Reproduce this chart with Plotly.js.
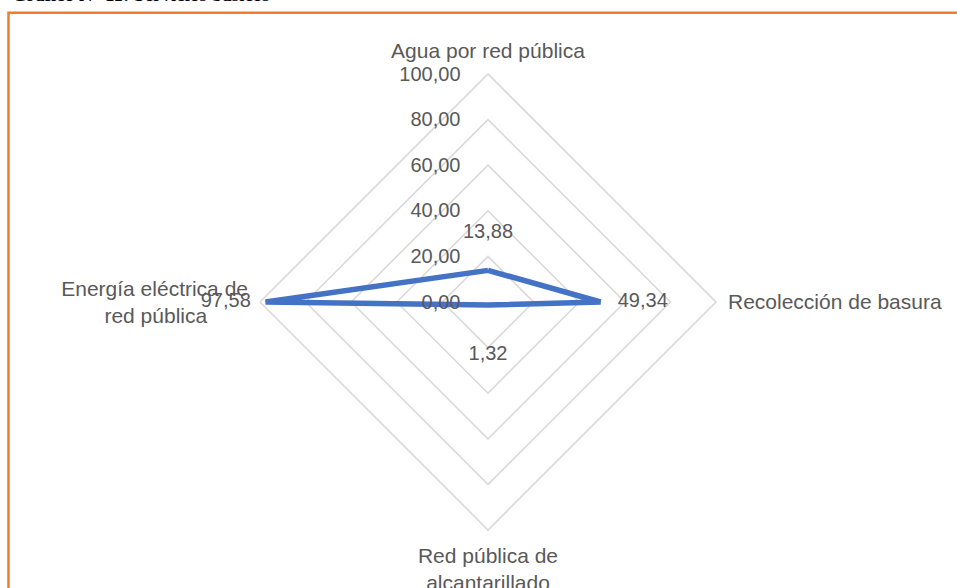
<!DOCTYPE html>
<html>
<head>
<meta charset="utf-8">
<script src="https://cdn.plot.ly/plotly-3.0.1.min.js"></script>
<style>html,body{margin:0;padding:0;background:#fff;}#chart{width:957px;height:588px;}</style>
</head>
<body>
<div id="chart"></div>
<script>
const categories = ["Agua por red pública", "Recolección de basura", "Red pública de alcantarillado", "Energía eléctrica de red pública"];
const tickLabels = ["Agua por red pública", "Recolección de basura", "Red pública de<br>alcantarillado", "Energía eléctrica de<br>red pública&nbsp;&nbsp;&nbsp;&nbsp;&nbsp;&nbsp;&nbsp;"];
const values = [13.88, 49.34, 1.32, 97.58];
const radialTicks = [0, 20, 40, 60, 80, 100];
const titleText = "Gráfico N° 11: Servicios básicos";

const FONT = "Liberation Sans, Arial, sans-serif";
const GRAY = "#595959";

const rClosed = values.concat([values[0]]);
const thetaClosed = categories.concat([categories[0]]);
const labelTemplates = values.map(() => "%{r:.2f}").concat([""]);

const trace = {
  type: "scatterpolar",
  r: rClosed,
  theta: thetaClosed,
  mode: "lines+markers+text",
  line: {color: "#4472C4", width: 5.5},
  marker: {size: [42, 26, 62, 22, 42], color: "rgba(0,0,0,0)", line: {width: 0, color: "rgba(0,0,0,0)"}},
  texttemplate: labelTemplates,
  textposition: ["top center", "middle right", "bottom center", "middle left", "top center"],
  textfont: {family: FONT, size: 20, color: GRAY},
  cliponaxis: false,
  hoverinfo: "skip",
  showlegend: false
};

const layout = {
  width: 957,
  height: 588,
  margin: {l: 0, r: 0, t: 0, b: 0},
  paper_bgcolor: "#ffffff",
  separators: ",.",
  font: {family: FONT, size: 20, color: GRAY},
  showlegend: false,
  polar: {
    domain: {x: [260/957, 716/957], y: [1 - 530/588, 1 - 74/588]},
    gridshape: "linear",
    bgcolor: "rgba(0,0,0,0)",
    radialaxis: {
      range: [0, 100],
      tickmode: "array",
      tickvals: radialTicks,
      tickformat: ".2f",
      angle: 90,
      side: "counterclockwise",
      tickangle: 90,
      showline: false,
      ticks: "outside",
      ticklen: 20,
      tickcolor: "rgba(0,0,0,0)",
      gridcolor: "#d9d9d9",
      gridwidth: 1.6,
      tickfont: {family: FONT, size: 20, color: GRAY}
    },
    angularaxis: {
      direction: "clockwise",
      rotation: 90,
      showgrid: false,
      showline: true,
      linecolor: "#d9d9d9",
      linewidth: 1.6,
      tickmode: "array",
      tickvals: categories,
      ticktext: tickLabels,
      ticks: "outside",
      ticklen: 7,
      tickcolor: "rgba(0,0,0,0)",
      tickfont: {family: FONT, size: 21, color: GRAY}
    }
  },
  shapes: [{
    type: "rect", xref: "paper", yref: "paper",
    x0: 8.5/957, x1: 1.05, y0: -0.05, y1: 1 - 12.8/588,
    line: {color: "#ED7D31", width: 2.5}, fillcolor: "rgba(0,0,0,0)"
  }],
  annotations: [{
    xref: "paper", yref: "paper", x: 10/957, y: 1 - 7.5/588,
    xanchor: "left", yanchor: "bottom", showarrow: false,
    text: "<b>" + titleText + "</b>",
    font: {family: "Liberation Serif, Times New Roman, serif", size: 19, color: "#000000"}
  }]
};

Plotly.newPlot("chart", [trace], layout, {displayModeBar: false, staticPlot: true});
</script>
</body>
</html>
